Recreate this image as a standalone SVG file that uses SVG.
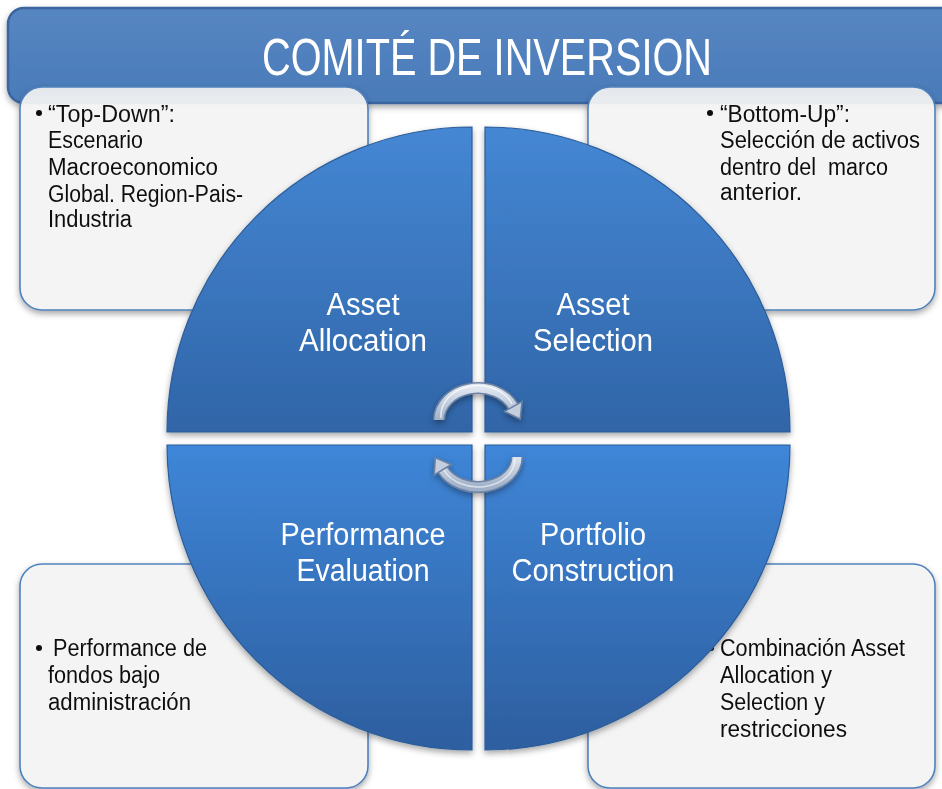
<svg xmlns="http://www.w3.org/2000/svg" width="942" height="789" viewBox="0 0 942 789">
<defs>
<style>
.box{stroke:#4f81bd;stroke-width:1.6}
.bt{font-family:"Liberation Sans",Arial,sans-serif;font-size:23px;fill:#111;white-space:pre}
.ql{font-family:"Liberation Sans",Arial,sans-serif;font-size:31px;fill:#fff;text-anchor:middle}
.q{stroke:#2c5d99;stroke-width:1.2}
</style>
<linearGradient id="hdr" x1="0" y1="0" x2="0" y2="1">
<stop offset="0" stop-color="#5686c2"/><stop offset="1" stop-color="#4a7bb9"/>
</linearGradient>
<linearGradient id="boxTop" x1="0" y1="0" x2="0" y2="1">
<stop offset="0" stop-color="#e4e8ed"/><stop offset="0.075" stop-color="#e9ecef"/><stop offset="0.08" stop-color="#f4f4f4"/><stop offset="1" stop-color="#f4f4f4"/>
</linearGradient>
<linearGradient id="qTop" gradientUnits="userSpaceOnUse" x1="0" y1="127" x2="0" y2="432">
<stop offset="0" stop-color="#4587d4"/><stop offset="1" stop-color="#3065a8"/>
</linearGradient>
<linearGradient id="qBot" gradientUnits="userSpaceOnUse" x1="0" y1="445" x2="0" y2="750">
<stop offset="0" stop-color="#3f86d8"/><stop offset="1" stop-color="#2d5e9f"/>
</linearGradient>
<linearGradient id="arr" x1="0" y1="0" x2="0" y2="1">
<stop offset="0" stop-color="#dfe6f0"/><stop offset="1" stop-color="#9fb0c8"/>
</linearGradient>
<filter id="sh" x="-10%" y="-10%" width="120%" height="125%">
<feDropShadow dx="0" dy="3" stdDeviation="3" flood-color="#000" flood-opacity="0.35"/>
</filter>
</defs>

<g id="header" filter="url(#sh)">
<rect x="8" y="8" width="960" height="95" rx="16" fill="url(#hdr)" stroke="#3a659f" stroke-width="2.5"/>
<text x="262" y="75" font-family="Liberation Sans,Arial,sans-serif" font-size="52" fill="#fff" textLength="450" lengthAdjust="spacingAndGlyphs">COMITÉ DE INVERSION</text>
</g>

<g id="box-topdown" filter="url(#sh)">
<rect class="box" x="20" y="87" width="348" height="223" rx="22" fill="url(#boxTop)"/>
<circle cx="39" cy="113" r="3" fill="#111"/>
<text class="bt" x="48" y="122" textLength="127" lengthAdjust="spacingAndGlyphs">“Top-Down”:</text>
<text class="bt" x="48" y="148" textLength="95" lengthAdjust="spacingAndGlyphs">Escenario</text>
<text class="bt" x="48" y="175" textLength="170" lengthAdjust="spacingAndGlyphs">Macroeconomico</text>
<text class="bt" x="48" y="202" textLength="195" lengthAdjust="spacingAndGlyphs">Global. Region-Pais-</text>
<text class="bt" x="48" y="227" textLength="84" lengthAdjust="spacingAndGlyphs">Industria</text>
</g>

<g id="box-bottomup" filter="url(#sh)">
<rect class="box" x="588" y="87" width="347" height="223" rx="22" fill="url(#boxTop)"/>
<circle cx="710" cy="113" r="3" fill="#111"/>
<text class="bt" x="720" y="122" textLength="130" lengthAdjust="spacingAndGlyphs">“Bottom-Up”:</text>
<text class="bt" x="720" y="148" textLength="200" lengthAdjust="spacingAndGlyphs">Selección de activos</text>
<text class="bt" x="720" y="175" textLength="168" lengthAdjust="spacingAndGlyphs">dentro del  marco</text>
<text class="bt" x="720" y="200" textLength="82" lengthAdjust="spacingAndGlyphs">anterior.</text>
</g>

<g id="box-performance" filter="url(#sh)">
<rect class="box" x="20" y="564" width="348" height="224" rx="22" fill="#f4f4f4"/>
<circle cx="39" cy="648" r="3" fill="#111"/>
<text class="bt" x="53" y="656" textLength="154" lengthAdjust="spacingAndGlyphs">Performance de</text>
<text class="bt" x="48" y="683" textLength="112" lengthAdjust="spacingAndGlyphs">fondos bajo</text>
<text class="bt" x="48" y="710" textLength="143" lengthAdjust="spacingAndGlyphs">administración</text>
</g>

<g id="box-combinacion" filter="url(#sh)">
<rect class="box" x="588" y="564" width="347" height="224" rx="22" fill="#f4f4f4"/>
<circle cx="711" cy="648" r="3" fill="#111"/>
<text class="bt" x="720" y="656" textLength="185" lengthAdjust="spacingAndGlyphs">Combinación Asset</text>
<text class="bt" x="720" y="683" textLength="112" lengthAdjust="spacingAndGlyphs">Allocation y</text>
<text class="bt" x="720" y="710" textLength="105" lengthAdjust="spacingAndGlyphs">Selection y</text>
<text class="bt" x="720" y="737" textLength="127" lengthAdjust="spacingAndGlyphs">restricciones</text>
</g>

<g id="q-asset-allocation" filter="url(#sh)">
<path class="q" d="M472 432 L167 432 A305 305 0 0 1 472 127 Z" fill="url(#qTop)"/>
<text class="ql" x="363" y="315" textLength="73" lengthAdjust="spacingAndGlyphs">Asset</text>
<text class="ql" x="363" y="351" textLength="128" lengthAdjust="spacingAndGlyphs">Allocation</text>
</g>
<g id="q-asset-selection" filter="url(#sh)">
<path class="q" d="M485 432 L485 127 A305 305 0 0 1 790 432 Z" fill="url(#qTop)"/>
<text class="ql" x="593" y="315" textLength="73" lengthAdjust="spacingAndGlyphs">Asset</text>
<text class="ql" x="593" y="351" textLength="120" lengthAdjust="spacingAndGlyphs">Selection</text>
</g>
<g id="q-performance-evaluation" filter="url(#sh)">
<path class="q" d="M472 445 L472 750 A305 305 0 0 1 167 445 Z" fill="url(#qBot)"/>
<text class="ql" x="363" y="545" textLength="165" lengthAdjust="spacingAndGlyphs">Performance</text>
<text class="ql" x="363" y="581" textLength="133" lengthAdjust="spacingAndGlyphs">Evaluation</text>
</g>
<g id="q-portfolio-construction" filter="url(#sh)">
<path class="q" d="M485 445 L790 445 A305 305 0 0 1 485 750 Z" fill="url(#qBot)"/>
<text class="ql" x="593" y="545" textLength="106" lengthAdjust="spacingAndGlyphs">Portfolio</text>
<text class="ql" x="593" y="581" textLength="163" lengthAdjust="spacingAndGlyphs">Construction</text>
</g>

<g id="connectors" filter="url(#sh)">
<path d="M439 420 A39 32 0 0 1 513.3 406.5" fill="none" stroke="#6d82a2" stroke-width="12"/>
<path d="M439 420 A39 32 0 0 1 513.3 406.5" fill="none" stroke="url(#arr)" stroke-width="9"/>
<path d="M441 418 A37 30 0 0 1 512 404" fill="none" stroke="#ffffff" stroke-opacity="0.7" stroke-width="1.5"/>
<polygon points="520.2,419 504.6,411.4 522,401.6" fill="#c3cfdf" stroke="#6d82a2" stroke-width="1.5"/>
<path d="M517 457 A39 30 0 0 1 442.7 469.7" fill="none" stroke="#6d82a2" stroke-width="12"/>
<path d="M517 457 A39 30 0 0 1 442.7 469.7" fill="none" stroke="url(#arr)" stroke-width="9"/>
<path d="M515 459 A37 28 0 0 1 444 470" fill="none" stroke="#ffffff" stroke-opacity="0.6" stroke-width="1.5"/>
<polygon points="435.4,457.7 451.2,464.5 434.2,474.9" fill="#c3cfdf" stroke="#6d82a2" stroke-width="1.5"/>
</g>
</svg>
